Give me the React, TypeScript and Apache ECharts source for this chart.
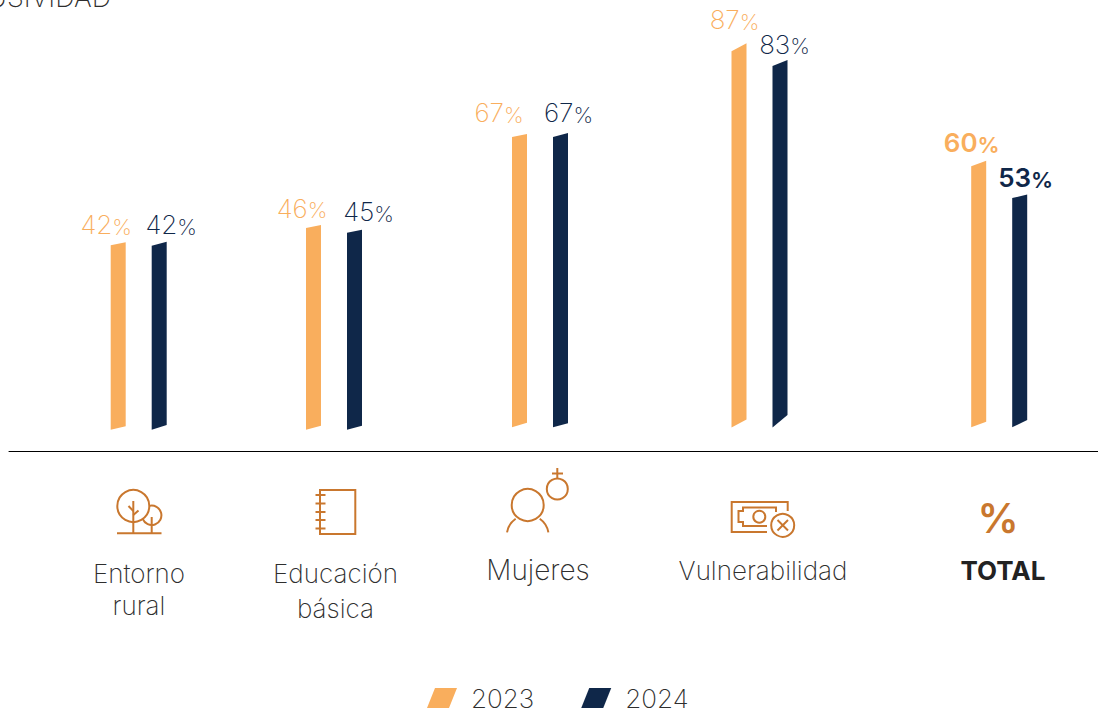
import React, { useEffect, useRef } from "react";
import * as echarts from "echarts";

const categories = ["Entorno rural", "Educación básica", "Mujeres", "Vulnerabilidad", "TOTAL"];
const legendNames = ["2023", "2024"];
const values2023 = [42.4, 46.4, 66.7, 86.5, 60.0];
const values2024 = [42.3, 45.3, 66.7, 83.1, 52.7];

// Layout (pixel offsets), kept apart from the data
const groupShift = [20.8, -1.7, -13.5, -11.8, 10.1];
const baseShift = [0, 0, -2.5, -2.3, -2.4];
const slantTop = [[3, 3, 3, 8, 5.5], [4, 3, 4, 6, 3.5]];
const slantBottom = [[3.5, 4, 4.5, 8, 5.6], [4.7, 4, 4, 12.5, 7.3]];
const labelDx = [[-12, -11.5, -20.5, -4.5, -7], [12, 14, 8, 4.5, 6]];
const labelDy = [[-13.5, -12.5, -17.5, -24.5, -16.5], [-14, -14, -17.5, -14.5, -13.5]];

const ORANGE = "#F9AE5D";
const NAVY = "#0F2749";
const ICON = "#C9772E";
const TEXT = "#2E2E2E";
const FONT = "Inter";

function barSeries(name: string, idx: number, values: number[], color: string, barDx: number, labelColor: string) {
  return {
    type: "custom",
    name,
    clip: false,
    itemStyle: { color },
    encode: { x: 0, y: 1 },
    data: values.map((v, i) => [i, v]),
    renderItem: (_p: any, api: any) => {
      const i = api.value(0);
      const v = api.value(1);
      const top = api.coord([i, v]);
      const zero = api.coord([i, 0]);
      const x0 = top[0] + groupShift[i] + barDx;
      const x1 = x0 + 15;
      const yb = zero[1] + baseShift[i];
      const yt = yb - (zero[1] - top[1]);
      const bold = i === 4;
      const cx = (x0 + x1) / 2 + labelDx[idx][i];
      return {
        type: "group",
        children: [
          {
            type: "polygon",
            shape: {
              points: [
                [x0, yt],
                [x1, yt - slantTop[idx][i]],
                [x1, yb - slantBottom[idx][i]],
                [x0, yb],
              ],
            },
            style: { fill: color },
          },
          {
            type: "text",
            x: cx,
            y: yt + labelDy[idx][i] + 6,
            style: {
              text: `{n|${Math.round(v)}}{p|%}`,
              align: "center",
              verticalAlign: "bottom",
              fill: labelColor,
              rich: {
                n: { fontFamily: FONT, fontSize: 26, fontWeight: bold ? 600 : 250, fill: labelColor, lineHeight: 30, verticalAlign: "bottom" },
                p: { fontFamily: FONT, fontSize: 22, fontWeight: bold ? 600 : 250, fill: labelColor, lineHeight: 30, verticalAlign: "bottom" },
              },
            },
          },
        ],
      };
    },
  };
}

// y is the text's baseline, less the small gap between the box's bottom and it
function label(text: string, x: number, y: number, size: number, weight: number = 250, color: string = TEXT, align: string = "center") {
  return {
    type: "text",
    x,
    y: y + size * 0.15,
    silent: true,
    style: { text, fontFamily: FONT, fontSize: size, fontWeight: weight, fill: color, align, verticalAlign: "bottom" },
  };
}

const stroke = { stroke: ICON, lineWidth: 2, fill: "none" };
const circ = (cx: number, cy: number, r: number) => ({ type: "circle", shape: { cx, cy, r }, style: stroke });
const ln = (x1: number, y1: number, x2: number, y2: number) => ({ type: "line", shape: { x1, y1, x2, y2 }, style: stroke });
const arc = (cx: number, cy: number, r: number, a: number, b: number) => ({
  type: "arc",
  shape: { cx, cy, r, startAngle: (a * Math.PI) / 180, endAngle: (b * Math.PI) / 180, clockwise: true },
  style: stroke,
});
const poly = (points: number[][]) => ({ type: "polyline", shape: { points }, style: stroke });

const icons = [
  // tree
  circ(133.3, 506, 16),
  arc(151.7, 515.3, 9.7, -104, 158),
  ln(117, 533.3, 161.5, 533.3),
  ln(133.3, 501, 133.3, 533.3),
  ln(128.5, 506, 133.3, 511),
  ln(138.5, 510.5, 133.3, 515),
  ln(151.7, 517, 151.7, 533.3),
  // notebook
  { type: "rect", shape: { x: 320, y: 490, width: 35.3, height: 44 }, style: stroke },
  ln(315.5, 495, 325.5, 495),
  ln(315.5, 503.5, 325.5, 503.5),
  ln(315.5, 512, 325.5, 512),
  ln(315.5, 520, 325.5, 520),
  ln(315.5, 528.5, 325.5, 528.5),
  // person with female sign
  circ(527.7, 505, 16),
  arc(527.7, 536, 21, 190, 235),
  arc(527.7, 536, 21, 305, 350),
  circ(557.3, 489, 10.5),
  ln(557.3, 468, 557.3, 478.5),
  ln(552, 473.5, 563, 473.5),
  // banknote with cross
  poly([[787.7, 511], [787.7, 502], [731.7, 502], [731.7, 532], [767, 532]]),
  poly([[776, 512], [776, 507.5], [743, 507.5], [743, 511], [738.5, 511], [738.5, 522], [743, 522], [743, 526], [767, 526]]),
  circ(759.3, 516.7, 6),
  circ(782.7, 525.3, 11.5),
  ln(777.5, 520, 788, 530.5),
  ln(788, 520, 777.5, 530.5),
];

const catTexts = [
  label("Entorno", 139, 583, 26),
  label("rural", 139, 615, 26),
  label("Educación", 335.5, 583, 26),
  label("básica", 335.5, 618, 26),
  label(categories[2], 538, 580, 28),
  label(categories[3], 763, 580, 26),
  label(categories[4], 1003, 580, 26, 700, "#222222"),
  label("%", 998, 532, 41, 600, ICON),
  label("INCLUSIVIDAD", 111, 7, 27, 250, TEXT, "right"),
];

const swatch = "path://M8 0H30L22 20H0Z";

export default function App() {
  const ref = useRef<HTMLDivElement>(null);
  useEffect(() => {
    document.body.style.margin = "0";
    const chart = echarts.init(ref.current!, undefined, { renderer: "svg" });
    chart.setOption({
      animation: false,
      backgroundColor: "#ffffff",
      grid: { left: 9, right: 0, top: 38.25, bottom: 261.5, containLabel: false },
      xAxis: {
        type: "category",
        data: categories,
        axisLine: { show: true, onZero: false, lineStyle: { color: "#000000", width: 1 } },
        axisTick: { show: false },
        axisLabel: { show: false },
      },
      yAxis: { type: "value", min: -5, max: 90, show: false },
      legend: {
        left: 427,
        top: 685,
        padding: 0,
        itemWidth: 30,
        itemHeight: 20,
        itemGap: 47,
        textStyle: { fontFamily: FONT, fontSize: 26, fontWeight: 250, color: TEXT, padding: [0, 0, 0, 9] },
        data: legendNames.map((name) => ({ name, icon: swatch })),
        selectedMode: false,
      },
      graphic: { elements: [...icons, ...catTexts] },
      series: [
        barSeries(legendNames[0], 0, values2023, ORANGE, -28, ORANGE),
        barSeries(legendNames[1], 1, values2024, NAVY, 13, NAVY),
      ],
    });
    return () => chart.dispose();
  }, []);
  return <div ref={ref} style={{ width: 1098, height: 713, background: "#fff" }} />;
}
